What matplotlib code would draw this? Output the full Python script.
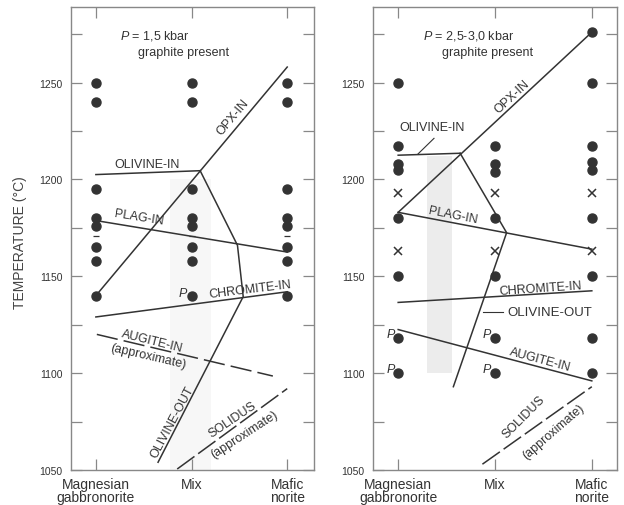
import matplotlib
matplotlib.use("Agg")
import matplotlib.pyplot as plt

plt.rcParams['font.family'] = ['Liberation Sans', 'DejaVu Sans']
plt.rcParams['mathtext.fontset'] = 'custom'
plt.rcParams['mathtext.it'] = 'Liberation Sans:italic'
plt.rcParams['mathtext.rm'] = 'Liberation Sans'

INK = '#333333'
SPINE = '#888888'

categories = ['Magnesian\ngabbronorite', 'Mix', 'Mafic\nnorite']

# ---- left panel (P = 1,5 kbar) ----
left_dots = [
    [1250, 1240, 1195, 1180, 1176, 1165, 1158, 1140],
    [1250, 1240, 1195, 1180, 1176, 1165, 1158, 1140],
    [1250, 1240, 1195, 1180, 1176, 1165, 1158, 1140],
]
left_dashes = [1171, 1171, 1171]
left_p = [(1, 1140)]

l_opx_x, l_opx_t = [0, 2], [1140, 1258]
l_olin_x, l_olin_t = [0, 1.09], [1202.5, 1204.5]
l_olout_x, l_olout_t = [1.09, 1.48, 1.54, 0.65], [1204.5, 1166, 1139.5, 1054]
l_plag_x, l_plag_t = [-0.03, 2], [1179, 1162.5]
l_chrom_x, l_chrom_t = [0, 2], [1129, 1142]
l_aug_x, l_aug_t = [0.01, 1.85], [1120, 1098.5]
l_sol_x, l_sol_t = [0.85, 2.0], [1050.5, 1092]

# ---- right panel (P = 2,5-3,0 kbar) ----
right_dots = [
    [1250, 1217, 1208, 1205, 1180, 1150, 1118, 1100],
    [1217, 1208, 1204, 1180, 1150, 1118, 1100],
    [1276, 1250, 1217, 1209, 1205, 1180, 1150, 1118, 1100],
]
right_cross = [
    [1193, 1163],
    [1193, 1163],
    [1193, 1163],
]
right_p = [(0, 1118), (0, 1100), (1, 1118), (1, 1100)]

r_opx_x, r_opx_t = [0, 2], [1183, 1276]
r_olin_x, r_olin_t = [0, 0.64], [1212.5, 1213.5]
r_olout_x, r_olout_t = [0.64, 1.12, 0.57], [1213.5, 1172.5, 1093]
r_plag_x, r_plag_t = [0, 2], [1183, 1164]
r_chrom_x, r_chrom_t = [0, 2], [1136.5, 1142.5]
r_aug_x, r_aug_t = [0, 2], [1122.5, 1096]
r_sol_x, r_sol_t = [0.87, 2.0], [1053, 1093]

fig = plt.figure(figsize=(6.24, 5.06), dpi=100)
ax1 = fig.add_axes([71 / 624, 35 / 506, 243 / 624, 463 / 506])
ax2 = fig.add_axes([373 / 624, 35 / 506, 244 / 624, 463 / 506])


def style_axes(ax, xlim):
    ax.set_xlim(*xlim)
    ax.set_ylim(1050, 1289)
    ax.set_xticks([0, 1, 2])
    ax.set_xticklabels(categories, fontsize=10, color=INK, linespacing=0.95)
    ax.set_yticks([1050, 1100, 1150, 1200, 1250])
    ax.set_yticks([1075, 1125, 1175, 1225, 1275], minor=True)
    for lab in ax.get_yticklabels():
        lab.set_fontsize(7.5)
        lab.set_color(INK)
    ax.tick_params(axis='both', which='both', direction='in', top=True, right=True,
                   length=8, width=0.9, color=SPINE)
    ax.tick_params(axis='x', pad=5)
    ax.tick_params(axis='y', pad=6)
    for s in ax.spines.values():
        s.set_color(SPINE)
        s.set_linewidth(1.0)


def draw_dots(ax, dots):
    for i, col in enumerate(dots):
        ax.plot([i] * len(col), col, 'o', color=INK, markersize=6.5, zorder=4)


lw = 1.1
style_axes(ax1, (-0.26, 2.28))
ax1.axvspan(0.78, 1.2, ymin=0, ymax=(1200 - 1050) / 239, color='#f7f7f7', lw=0, zorder=0)
draw_dots(ax1, left_dots)
ax1.plot([0, 1, 2], left_dashes, '_', color=INK, markersize=5, mew=0.9, zorder=4)
for x, t in left_p:
    ax1.text(x - 0.09, t + 1.5, 'P', fontsize=9, style='italic', color=INK, ha='center', va='center')

ax1.plot(l_opx_x, l_opx_t, color=INK, lw=lw)
ax1.plot(l_olin_x, l_olin_t, color=INK, lw=lw)
ax1.plot(l_olout_x, l_olout_t, color=INK, lw=lw)
ax1.plot(l_plag_x, l_plag_t, color=INK, lw=lw)
ax1.plot(l_chrom_x, l_chrom_t, color=INK, lw=lw)
ax1.plot(l_aug_x, l_aug_t, color=INK, lw=lw, dashes=(14, 4))
ax1.plot(l_sol_x, l_sol_t, color=INK, lw=lw, dashes=(14, 3))

tk = dict(fontsize=9, color=INK, ha='center', va='center', rotation_mode='anchor')
ax1.text(0.25, 1274.8, '$\\it{P}$ = 1,5 kbar', fontsize=9, color=INK, va='center')
ax1.text(0.44, 1266, 'graphite present', fontsize=9, color=INK, va='center')
ax1.text(1.43, 1232.5, 'OPX-IN', rotation=50, **tk)
ax1.text(0.53, 1208, 'OLIVINE-IN', **tk)
ax1.text(0.45, 1180.5, 'PLAG-IN', rotation=-9, **tk)
ax1.text(1.61, 1143.5, 'CHROMITE-IN', rotation=7, **tk)
ax1.text(0.59, 1116.5, 'AUGITE-IN', rotation=-14, **tk)
ax1.text(0.55, 1109, '(approximate)', rotation=-13, **tk)
ax1.text(0.80, 1075, 'OLIVINE-OUT', rotation=62, **tk)
ax1.text(1.43, 1076, 'SOLIDUS', rotation=34, **tk)
ax1.text(1.55, 1068.5, '(approximate)', rotation=33, **tk)

style_axes(ax2, (-0.26, 2.26))
ax2.axvspan(0.3, 0.56, ymin=(1100 - 1050) / 239, ymax=(1212 - 1050) / 239,
            color='#ececec', lw=0, zorder=0)
draw_dots(ax2, right_dots)
for i, col in enumerate(right_cross):
    ax2.plot([i] * len(col), col, 'x', color=INK, markersize=6, mew=1.1, zorder=4)
for x, t in right_p:
    ax2.text(x - 0.08, t + 2, 'P', fontsize=9, style='italic', color=INK, ha='center', va='center')

ax2.plot(r_opx_x, r_opx_t, color=INK, lw=lw)
ax2.plot(r_olin_x, r_olin_t, color=INK, lw=lw)
ax2.plot(r_olout_x, r_olout_t, color=INK, lw=lw)
ax2.plot(r_plag_x, r_plag_t, color=INK, lw=lw)
ax2.plot(r_chrom_x, r_chrom_t, color=INK, lw=lw)
ax2.plot(r_aug_x, r_aug_t, color=INK, lw=lw)
ax2.plot(r_sol_x, r_sol_t, color=INK, lw=lw, dashes=(14, 3))
ax2.plot([0.206, 0.37], [1213.2, 1221.2], color=INK, lw=0.8)
ax2.plot([0.876, 1.08], [1131.4, 1131.4], color=INK, lw=0.8)

ax2.text(0.26, 1274.8, '$\\it{P}$ = 2,5-3,0 kbar', fontsize=9, color=INK, va='center')
ax2.text(0.45, 1266, 'graphite present', fontsize=9, color=INK, va='center')
ax2.text(1.18, 1242.8, 'OPX-IN', rotation=43, **tk)
ax2.text(0.35, 1227, 'OLIVINE-IN', **tk)
ax2.text(0.57, 1181.5, 'PLAG-IN', rotation=-11, **tk)
ax2.text(1.47, 1144, 'CHROMITE-IN', rotation=4, **tk)
ax2.text(1.13, 1131.4, 'OLIVINE-OUT', fontsize=9.5, color=INK, ha='left', va='center')
ax2.text(1.47, 1107, 'AUGITE-IN', rotation=-15, **tk)
ax2.text(1.30, 1077.5, 'SOLIDUS', rotation=45, **tk)
ax2.text(1.60, 1070, '(approximate)', rotation=41, **tk)

fig.text(20 / 624, 0.52, 'TEMPERATURE (°C)', rotation=90, fontsize=10, color='#444444',
         ha='center', va='center')

fig.savefig('out.png', dpi=100)
